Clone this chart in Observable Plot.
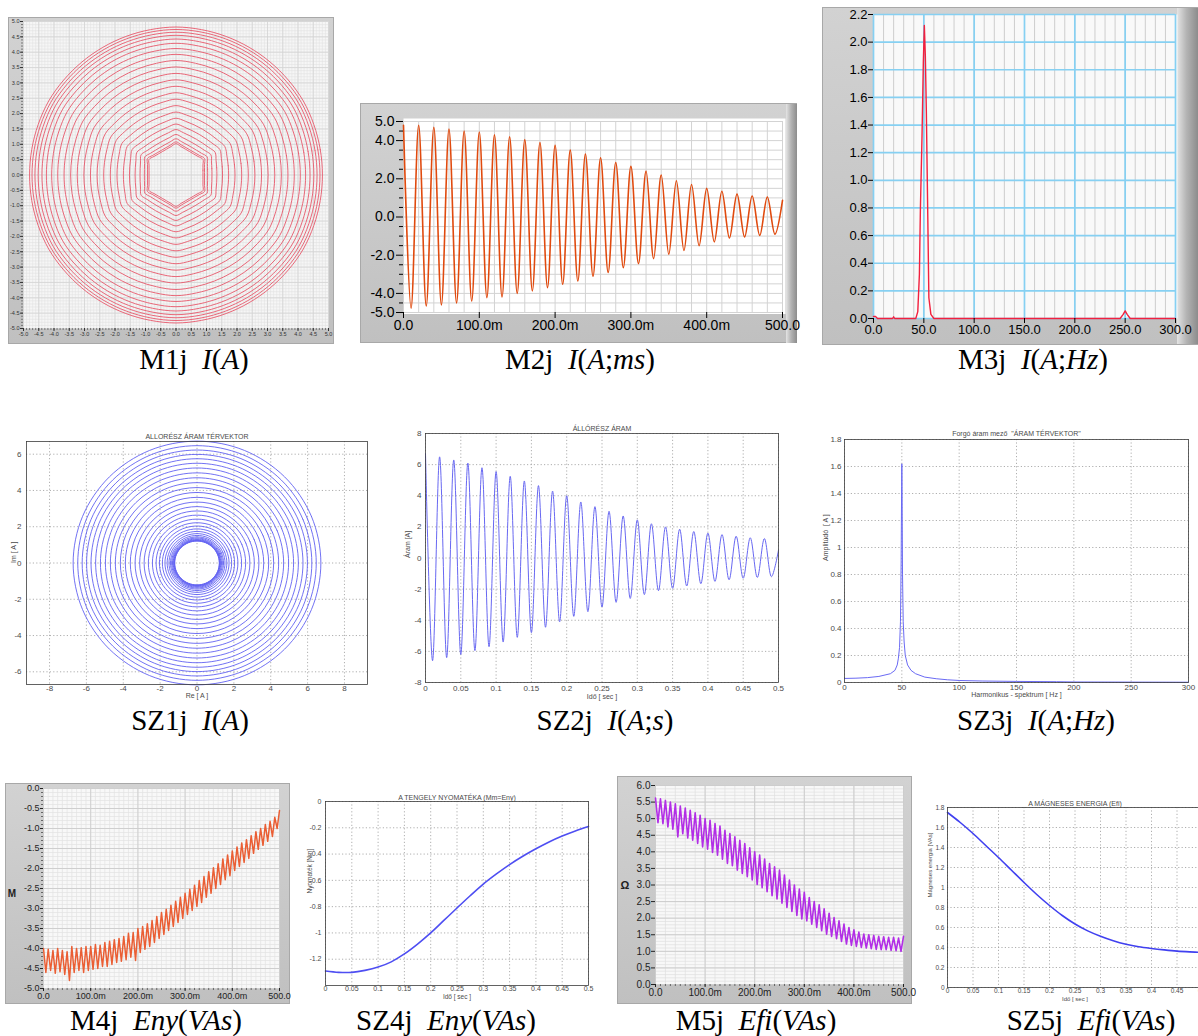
<!DOCTYPE html>
<html><head><meta charset="utf-8">
<script src="https://cdn.jsdelivr.net/npm/d3@7"></script>
<script src="https://cdn.jsdelivr.net/npm/@observablehq/plot@0.6"></script>
<style>
html,body{margin:0;padding:0;background:#fff;overflow:hidden}
#stage{position:relative;width:1198px;height:1036px;overflow:hidden;background:#fff}
.lv{position:absolute;background:linear-gradient(#d2d2d2,#c0c0c0);box-sizing:border-box;border:1px solid #a8a8a8}
.strip{position:absolute;background:linear-gradient(to right,#e4e4e4,#b4b4b4 45%,#8c8c8c)}
.cap{position:absolute;font-family:"Liberation Serif","Times New Roman",serif;font-size:29px;white-space:nowrap;transform:translateX(-50%);line-height:1;color:#000}
.cap i{font-style:italic}
.lbl{position:absolute;font-family:"Liberation Sans",Arial,sans-serif;color:#222;transform:translate(-50%,-50%)}
svg{position:absolute}
</style></head><body><div id="stage"></div>
<script>
// ---------------- DATA ----------------
// M1: radii of the current-vector rings (outer -> inner) and how hexagonal each ring is
const m1Radius = [4.82,4.74,4.65,4.55,4.43,4.29,4.12,3.93,3.73,3.52,3.31,3.10,2.89,2.68,2.47,2.26,2.05,1.85,1.66,1.48,1.32,1.18,1.08,1.02];
const m1Hex    = [0.03,0.03,0.04,0.05,0.06,0.07,0.08,0.10,0.12,0.14,0.16,0.19,0.22,0.26,0.30,0.35,0.42,0.50,0.60,0.70,0.80,0.90,1.00,1.00];
// M2: current peaks [A], period 20 ms
const m2Pos = [4.8,4.8,4.7,4.6,4.5,4.45,4.3,4.2,4.05,3.9,3.75,3.5,3.3,3.1,2.85,2.65,2.4,2.2,1.9,1.7,1.5,1.35,1.2,1.1,1.05];
const m2Neg = [-4.78,-4.66,-4.6,-4.5,-4.4,-4.22,-4.19,-4.0,-3.87,-3.7,-3.52,-3.35,-3.1,-2.9,-2.65,-2.44,-2.18,-1.95,-1.75,-1.5,-1.3,-1.1,-1.05,-0.96,-0.9];
const m2End = 0.87;
// M3: spectrum
const m3Freq = [0,2,4,19,20,21,42,44,45.6,46.6,48.2,49.5,50.5,51.5,52.5,53.9,55,57,60,245,248,250,252,255,300];
const m3Amp  = [0.015,0.015,0,0,0.012,0,0,0.05,0.32,0.8,1.32,1.85,2.12,1.9,1.5,0.75,0.15,0.03,0,0,0.03,0.055,0.03,0,0];
// SZ1: ring radii (outer -> inner)
const sz1Radius = [6.72,6.47,6.23,5.99,5.75,5.5,5.24,4.97,4.7,4.43,4.16,3.89,3.62,3.36,3.11,2.87,2.64,2.42,2.22,2.04,1.88,1.74,1.62,1.52,1.44,1.38,1.33,1.29,1.26,1.24,1.22,1.21];
// SZ2: current peaks [A], period 0.02 s
const sz2Pos = [6.7,6.5,6.3,6.1,5.8,5.55,5.25,4.95,4.65,4.3,4.0,3.6,3.3,3.0,2.7,2.45,2.2,2.0,1.85,1.7,1.6,1.5,1.4,1.3,1.25];
const sz2Neg = [-6.6,-6.4,-6.2,-5.95,-5.7,-5.4,-5.1,-4.8,-4.45,-4.1,-3.75,-3.45,-3.15,-2.85,-2.6,-2.35,-2.1,-1.95,-1.8,-1.65,-1.5,-1.4,-1.3,-1.25,-1.2];
const sz2End = 0.5;
// SZ3: spectrum
const sz3Freq = [0,10,20,30,40,44,46,47,48,48.8,49.4,49.8,50,50.2,50.6,51.2,52,53,55,58,62,70,80,90,100,120,150,185,200,250,300];
const sz3Amp  = [0.03,0.032,0.036,0.045,0.065,0.09,0.13,0.18,0.26,0.45,0.9,1.45,1.62,1.45,0.8,0.45,0.3,0.2,0.13,0.09,0.065,0.04,0.028,0.02,0.015,0.011,0.008,0.006,0.004,0.003,0.002];
// M4: upper (t = 0,10..500 ms) and lower (t = 5,15..495 ms) ripple values
const m4Upper = [-4.0,-4.02,-4.05,-4.0,-4.05,-4.08,-3.95,-4.0,-3.98,-3.95,-3.95,-3.9,-3.92,-3.85,-3.82,-3.78,-3.75,-3.7,-3.62,-3.6,-3.5,-3.45,-3.38,-3.3,-3.2,-3.1,-3.02,-2.92,-2.82,-2.72,-2.62,-2.52,-2.42,-2.3,-2.2,-2.08,-1.98,-1.88,-1.76,-1.66,-1.56,-1.46,-1.36,-1.28,-1.18,-1.08,-1.0,-0.9,-0.82,-0.72,-0.55];
const m4Lower = [-4.6,-4.55,-4.62,-4.58,-4.65,-4.8,-4.6,-4.55,-4.6,-4.55,-4.52,-4.5,-4.45,-4.45,-4.4,-4.35,-4.32,-4.28,-4.22,-4.3,-4.1,-4.02,-3.95,-3.85,-3.75,-3.65,-3.55,-3.45,-3.35,-3.25,-3.15,-3.05,-2.95,-2.85,-2.72,-2.62,-2.5,-2.4,-2.28,-2.18,-2.05,-1.95,-1.85,-1.75,-1.62,-1.52,-1.42,-1.32,-1.2,-1.0];
// SZ4: shaft torque
const sz4Time = [0,0.025,0.05,0.075,0.1,0.125,0.15,0.175,0.2,0.225,0.25,0.275,0.3,0.325,0.35,0.375,0.4,0.425,0.45,0.475,0.5];
const sz4Val  = [-1.29,-1.30,-1.30,-1.285,-1.26,-1.22,-1.16,-1.085,-1.0,-0.905,-0.81,-0.717,-0.628,-0.551,-0.48,-0.417,-0.36,-0.308,-0.263,-0.224,-0.19];
// M5: upper (t = 0,10..500 ms) and lower (t = 5,15..495 ms) ripple values
const m5Upper = [5.62,5.6,5.55,5.5,5.45,5.38,5.32,5.25,5.18,5.1,5.0,4.95,4.85,4.78,4.65,4.55,4.45,4.35,4.25,4.12,4.0,3.9,3.78,3.65,3.55,3.45,3.3,3.15,3.0,2.88,2.78,2.62,2.5,2.4,2.28,2.15,2.02,1.92,1.82,1.72,1.65,1.58,1.52,1.5,1.48,1.45,1.44,1.42,1.42,1.4,1.45];
const m5Lower = [4.88,4.85,4.75,4.68,4.45,4.55,4.42,4.35,4.25,4.15,4.08,3.98,3.9,3.78,3.65,3.58,3.45,3.35,3.25,3.15,3.02,2.92,2.8,2.68,2.58,2.45,2.32,2.2,2.08,1.98,1.92,1.82,1.72,1.62,1.52,1.45,1.38,1.3,1.22,1.18,1.15,1.12,1.1,1.08,1.06,1.05,1.05,1.03,1.02,1.0];
// SZ5: magnetic energy
const sz5Time = [0,0.025,0.05,0.075,0.1,0.125,0.15,0.175,0.2,0.225,0.25,0.275,0.3,0.325,0.35,0.375,0.4,0.425,0.45,0.475,0.5];
const sz5Val  = [1.75,1.65,1.54,1.42,1.30,1.175,1.05,0.93,0.82,0.72,0.635,0.566,0.512,0.467,0.432,0.407,0.39,0.376,0.364,0.356,0.35];

const captions = [
  ['M1j&nbsp;&nbsp;<i>I</i>(<i>A</i>)',194,345],
  ['M2j&nbsp;&nbsp;<i>I</i>(<i>A</i>;<i>ms</i>)',580,345],
  ['M3j&nbsp;&nbsp;<i>I</i>(<i>A</i>;<i>Hz</i>)',1033,345],
  ['SZ1j&nbsp;&nbsp;<i>I</i>(<i>A</i>)',190,706],
  ['SZ2j&nbsp;&nbsp;<i>I</i>(<i>A</i>;<i>s</i>)',605,706],
  ['SZ3j&nbsp;&nbsp;<i>I</i>(<i>A</i>;<i>Hz</i>)',1036,706],
  ['M4j&nbsp;&nbsp;<i>Eny</i>(<i>VAs</i>)',156,1006],
  ['SZ4j&nbsp;&nbsp;<i>Eny</i>(<i>VAs</i>)',446,1006],
  ['M5j&nbsp;&nbsp;<i>Efi</i>(<i>VAs</i>)',756,1006],
  ['SZ5j&nbsp;&nbsp;<i>Efi</i>(<i>VAs</i>)',1091,1006]
];

// ---------------- HELPERS ----------------
const stage = document.getElementById("stage");
function put(svg, left, top, visible){ svg.style.left = left+"px"; svg.style.top = top+"px"; svg.style.maxWidth="none"; if (visible) svg.style.overflow="visible"; stage.appendChild(svg); return svg; }
function box(cls, l, t, w, h){ const d=document.createElement("div"); d.className=cls; Object.assign(d.style,{left:l+"px",top:t+"px",width:w+"px",height:h+"px"}); stage.appendChild(d); return d; }
function label(text, x, y, size, extra){ const d=document.createElement("div"); d.className="lbl"; d.textContent=text; Object.assign(d.style,{left:x+"px",top:y+"px",fontSize:size+"px"}, extra||{}); stage.appendChild(d); }
const rng = (a,b,s,div) => d3.range(a,b+s/2,s).map(v=>v/div);
const f1 = d => d.toFixed(1);
const fm = d => d===0 ? "0.0" : d===500 ? "500.0" : d.toFixed(1)+"m";
const fMat = d => String(+d.toFixed(2));

// table of alternating peaks / troughs for an oscillating record
function zig(up, low, step, end, endT){
  const rows = [];
  up.forEach((v,i)=>{ rows.push({t:i*step, v}); if (i<low.length) rows.push({t:i*step+step/2, v:low[i]}); });
  if (end !== undefined) rows.push({t:endT, v:end});
  return rows;
}

// ---------------- M1 ----------------
box("lv", 8, 17, 326, 327);
const c30 = Math.cos(Math.PI/6);
const m1Rings = m1Radius.flatMap((R,i)=> d3.range(36).map(k=>{
  const deg = 10*k;
  let phi = ((deg % 60) + 60) % 60; if (phi > 30) phi -= 60;        // angle from nearest edge middle
  const hexR = R*c30/Math.cos(phi*Math.PI/180);
  const r = (1-m1Hex[i])*R + m1Hex[i]*hexR;
  const a = deg*Math.PI/180;
  return {ring:i, x:r*Math.cos(a), y:r*Math.sin(a)};
}));
put(Plot.plot({
  width:326, height:327, marginLeft:15, marginRight:6, marginTop:4, marginBottom:16,
  x:{domain:[-5,5]}, y:{domain:[-5,5]},
  style:{background:"transparent", color:"#333", fontFamily:"Liberation Sans, Arial, sans-serif", fontSize:"5.5px"},
  marks:[
    Plot.frame({fill:"#f6f6f6"}),
    Plot.ruleX(rng(-50,50,1,10),{stroke:"#e3e3e3", strokeWidth:0.6}),
    Plot.ruleY(rng(-50,50,1,10),{stroke:"#e3e3e3", strokeWidth:0.6}),
    Plot.ruleX(rng(-50,50,5,10),{stroke:"#d4d4d4", strokeWidth:0.8}),
    Plot.ruleY(rng(-50,50,5,10),{stroke:"#d4d4d4", strokeWidth:0.8}),
    Plot.line(m1Rings,{x:"x", y:"y", z:"ring", curve:"catmull-rom-closed", stroke:"#e8596b", strokeWidth:1, strokeOpacity:0.9}),
    Plot.axisX({ticks:rng(-50,50,1,10), tickSize:2, tickFormat:()=>"", label:null, stroke:"#777"}),
    Plot.axisY({ticks:rng(-50,50,1,10), tickSize:2, tickFormat:()=>"", label:null, stroke:"#777"}),
    Plot.axisX({ticks:rng(-50,50,5,10), tickSize:3, tickPadding:1, tickFormat:f1, label:null}),
    Plot.axisY({ticks:rng(-50,50,5,10), tickSize:3, tickPadding:1, tickFormat:f1, label:null})
  ]
}), 8, 17);

// ---------------- M2 ----------------
box("lv", 360, 103, 437, 240);
box("strip", 786, 104, 11, 239);
const m2Data = zig(m2Pos, m2Neg, 20, m2End, 500);
put(Plot.plot({
  width:437, height:240, marginLeft:43, marginRight:15, marginTop:18, marginBottom:31,
  x:{domain:[0,500]}, y:{domain:[-5,5]},
  style:{background:"transparent", color:"#000", fontFamily:"Liberation Sans, Arial, sans-serif", fontSize:"14px"},
  marks:[
    Plot.frame({fill:"#fff", insetTop:-3, insetBottom:-1.5, insetRight:-3}),
    Plot.ruleX(rng(0,500,20,1),{stroke:"#d3d3d3", strokeWidth:1}),
    Plot.ruleY(rng(-50,50,5,10),{stroke:"#d3d3d3", strokeWidth:1}),
    Plot.line(m2Data,{x:"t", y:"v", curve:"catmull-rom", stroke:"#e04a0e", strokeWidth:1.6}),
    Plot.axisY({ticks:[-4.5,-3.5,-3,-2.5,-1.5,-1,-0.5,0.5,1,1.5,2.5,3,3.5,4.5], tickSize:4, tickFormat:()=>"", label:null}),
    Plot.axisY({ticks:[5,4,2,0,-2,-4,-5], tickSize:7, tickPadding:2, tickFormat:f1, label:null}),
    Plot.axisX({ticks:rng(0,500,100,1), tickSize:6, tickPadding:2, tickFormat:fm, label:null})
  ]
}), 360, 103, true);

// ---------------- M3 ----------------
box("lv", 822, 7, 376, 338);
box("strip", 1177, 8, 21, 336);
const m3Data = m3Freq.map((f,i)=>({f, a:m3Amp[i]}));
put(Plot.plot({
  width:376, height:338, marginLeft:51, marginRight:23, marginTop:7, marginBottom:27,
  x:{domain:[0,300]}, y:{domain:[0,2.2]},
  style:{background:"transparent", color:"#000", fontFamily:"Liberation Sans, Arial, sans-serif", fontSize:"13px"},
  marks:[
    Plot.frame({fill:"#f9f9f9", insetRight:-2}),
    Plot.ruleX(rng(0,300,10,1),{stroke:"#cdcdcd", strokeWidth:1}),
    Plot.ruleX(rng(0,300,50,1),{stroke:"#86d0f2", strokeWidth:1.7}),
    Plot.ruleY(rng(0,22,2,10),{stroke:"#86d0f2", strokeWidth:1.7}),
    Plot.line(m3Data,{x:"f", y:"a", stroke:"#f2203e", strokeWidth:1.4}),
    Plot.axisY({ticks:rng(0,22,2,10), tickSize:5, tickPadding:1, tickFormat:f1, label:null}),
    Plot.axisX({ticks:rng(0,300,50,1), tickSize:5, tickPadding:1, tickFormat:f1, label:null})
  ]
}), 822, 7);

// ---------------- MATLAB style panels ----------------
function mat(o){
  return Plot.plot({
    width:o.w, height:o.h, marginLeft:o.mL, marginRight:o.mR, marginTop:o.mT, marginBottom:o.mB,
    x:{domain:o.xd}, y:{domain:o.yd},
    style:{background:"transparent", color:"#4a4a4a", fontFamily:"Liberation Sans, Arial, sans-serif", fontSize:(o.fs||8)+"px"},
    marks:[
      Plot.ruleX(o.xt,{stroke:"#9a9a9a", strokeDasharray:"1.2,2.2", strokeWidth:0.8}),
      Plot.ruleY(o.yt,{stroke:"#9a9a9a", strokeDasharray:"1.2,2.2", strokeWidth:0.8}),
      ...o.marks,
      Plot.frame({stroke:"#3c3c3c", strokeWidth:0.8}),
      Plot.axisX({ticks:o.xt, tickFormat:o.xf||fMat, tickSize:0, tickPadding:o.xp??2, label:null}),
      Plot.axisY({ticks:o.yt, tickFormat:o.yf||fMat, tickSize:0, tickPadding:o.yp??4, label:null}),
      Plot.text([o.title],{text:d=>d, frameAnchor:"top", dy:o.tdy, fontSize:7}),
      Plot.text([o.xl],{text:d=>d, frameAnchor:"bottom", dy:o.xdy, fontSize:o.lfs||7}),
      Plot.text([o.yl],{text:d=>d, frameAnchor:"left", dx:o.ydx, rotate:-90, fontSize:o.lfs||7})
    ]
  });
}

// SZ1
const sz1Rings = sz1Radius.flatMap((r,i)=> d3.range(16).map(k=>{
  const a = k*Math.PI/8; return {ring:i, x:r*Math.cos(a), y:r*Math.sin(a)};
}));
put(mat({w:372, h:285, mL:26, mR:5, mT:21, mB:21, xd:[-9.25,9.25], yd:[-6.7,6.7],
  xt:rng(-8,8,2,1), yt:rng(-6,6,2,1), xp:1, yp:5,
  title:"ALLORÉSZ ÁRAM TÉRVEKTOR", tdy:-7, xl:"Re [ A ]", xdy:13, yl:"Im [ A ]", ydx:-13,
  marks:[Plot.line(sz1Rings,{x:"x", y:"y", z:"ring", curve:"catmull-rom-closed", stroke:"#6262f2", strokeWidth:0.9})]
}), 0, 420);

// SZ2
const sz2Data = zig(sz2Pos, sz2Neg, 0.02, sz2End, 0.5);
put(mat({w:395, h:290, mL:30, mR:12, mT:18, mB:23, xd:[0,0.5], yd:[-8,8],
  xt:rng(0,50,5,100), yt:rng(-8,8,2,1), xp:2.5, yp:4,
  title:"ÁLLÓRÉSZ ÁRAM", tdy:-7, xl:"Idő [ sec ]", xdy:16, yl:"Áram [A]", ydx:-18,
  marks:[Plot.line(sz2Data,{x:"t", y:"v", curve:"catmull-rom", stroke:"#6868f2", strokeWidth:1})]
}), 395, 415);

// SZ3
const sz3Data = sz3Freq.map((f,i)=>({f, a:sz3Amp[i]}));
put(mat({w:403, h:285, mL:49, mR:10, mT:19, mB:23, xd:[0,300], yd:[0,1.8],
  xt:rng(0,300,50,1), yt:rng(0,18,2,10), xp:2, yp:3,
  title:"Forgó áram mező  \"ÁRAM TÉRVEKTOR\"", tdy:-8, xl:"Harmonikus - spektrum [ Hz ]", xdy:14, yl:"Amplitúdó  [ A ]", ydx:-19,
  marks:[Plot.line(sz3Data,{x:"f", y:"a", stroke:"#6a6af4", strokeWidth:1})]
}), 795, 420);

// SZ4
const sz4Data = sz4Time.map((t,i)=>({t, v:sz4Val[i]}));
put(mat({w:318, h:220, mL:35, mR:20, mT:13, mB:23, xd:[0,0.5], yd:[-1.4,0], fs:7, lfs:6.5,
  xt:rng(0,50,5,100), yt:rng(-12,0,2,10), xp:1, yp:4,
  title:"A TENGELY NYOMATÉKA (Mm=Eny)", tdy:-6, xl:"Idő [ sec ]", xdy:13.5, yl:"Nyomaték [Nm]", ydx:-16,
  marks:[Plot.line(sz4Data,{x:"t", y:"v", curve:"catmull-rom", stroke:"#4e4ef2", strokeWidth:1.6})]
}), 290, 788);

// SZ5
const sz5Data = sz5Time.map((t,i)=>({t, v:sz5Val[i]}));
put(mat({w:287, h:220, mL:32, mR:0, mT:19, mB:21, xd:[0,0.5], yd:[0,1.8], fs:6.5, lfs:6,
  xt:rng(0,50,5,100), yt:rng(0,18,2,10), xp:1, yp:3,
  title:"A MÁGNESES ENERGIA (Efi)", tdy:-6, xl:"Idő [ sec ]", xdy:13, yl:"Mágneses energia [VAs]", ydx:-17,
  marks:[Plot.line(sz5Data,{x:"t", y:"v", curve:"catmull-rom", stroke:"#4040f0", strokeWidth:1.6})]
}), 915, 788);

// ---------------- M4 ----------------
box("lv", 5, 783, 285, 221);
const m4Data = zig(m4Upper, m4Lower, 10);
put(Plot.plot({
  width:285, height:221, marginLeft:38, marginRight:11, marginTop:5, marginBottom:16,
  x:{domain:[0,500]}, y:{domain:[-5,0]},
  style:{background:"transparent", color:"#222", fontFamily:"Liberation Sans, Arial, sans-serif", fontSize:"9px"},
  marks:[
    Plot.frame({fill:"#f8f8f8"}),
    Plot.ruleX(rng(0,500,10,1),{stroke:"#e2e2e2", strokeWidth:0.7}),
    Plot.ruleY(rng(-50,0,1,10),{stroke:"#e2e2e2", strokeWidth:0.7}),
    Plot.ruleX(rng(0,500,100,1),{stroke:"#cfcfcf", strokeWidth:1}),
    Plot.ruleY(rng(-50,0,5,10),{stroke:"#cfcfcf", strokeWidth:1}),
    Plot.line(m4Data,{x:"t", y:"v", stroke:"#ea5e34", strokeWidth:1.5}),
    Plot.axisX({ticks:rng(0,500,10,1), tickSize:2, tickFormat:()=>"", label:null, stroke:"#666"}),
    Plot.axisY({ticks:rng(-50,0,1,10), tickSize:2, tickFormat:()=>"", label:null, stroke:"#666"}),
    Plot.axisX({ticks:rng(0,500,100,1), tickSize:3, tickPadding:1, tickFormat:fm, label:null}),
    Plot.axisY({ticks:rng(-50,0,5,10), tickSize:3, tickPadding:1, tickFormat:f1, label:null})
  ]
}), 5, 783, true);
label("M", 12, 893, 10, {fontWeight:"bold"});

// ---------------- M5 ----------------
box("lv", 617, 776, 295, 228);
const m5Data = zig(m5Upper, m5Lower, 10);
put(Plot.plot({
  width:300, height:228, marginLeft:43, marginRight:9, marginTop:9, marginBottom:20,
  x:{domain:[0,500]}, y:{domain:[0,6]},
  style:{background:"transparent", color:"#222", fontFamily:"Liberation Sans, Arial, sans-serif", fontSize:"10px"},
  marks:[
    Plot.frame({fill:"#f8f8f8"}),
    Plot.ruleX(rng(0,500,20,1),{stroke:"#e0e0e0", strokeWidth:0.7}),
    Plot.ruleY(rng(0,60,1,10),{stroke:"#e0e0e0", strokeWidth:0.7}),
    Plot.ruleX(rng(0,500,100,1),{stroke:"#cdcdcd", strokeWidth:1}),
    Plot.ruleY(rng(0,60,5,10),{stroke:"#cdcdcd", strokeWidth:1}),
    Plot.line(m5Data,{x:"t", y:"v", stroke:"#b22ee6", strokeWidth:1.6}),
    Plot.axisX({ticks:rng(0,500,10,1), tickSize:2, tickFormat:()=>"", label:null, stroke:"#666"}),
    Plot.axisX({ticks:rng(0,500,100,1), tickSize:3, tickPadding:1, tickFormat:fm, label:null}),
    Plot.axisY({ticks:rng(0,60,5,10), tickSize:4, tickPadding:1, tickFormat:f1, label:null})
  ]
}), 612, 776, true);
label("Ω", 625, 885, 11, {fontWeight:"bold"});

// ---------------- captions ----------------
for (const [html,x,y] of captions){
  const d=document.createElement("div"); d.className="cap"; d.innerHTML=html;
  d.style.left=x+"px"; d.style.top=y+"px"; stage.appendChild(d);
}
</script></body></html>
